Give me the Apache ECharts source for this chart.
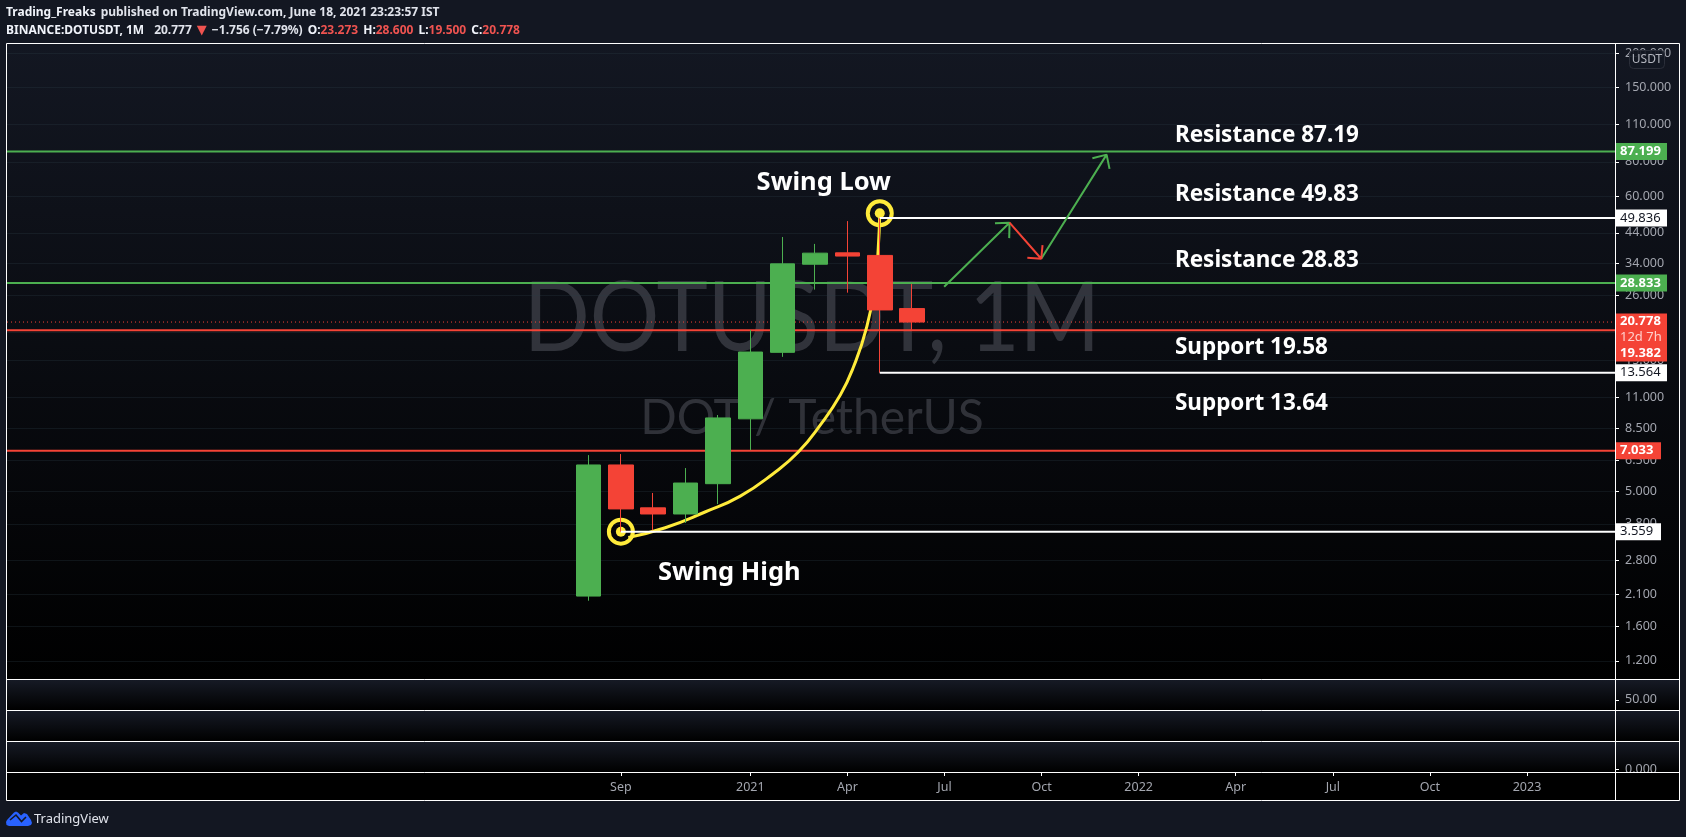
<!DOCTYPE html>
<html><head><meta charset="utf-8">
<style>html,body{margin:0;padding:0;background:#131722}#c{width:1686px;height:837px}</style>
<script src="https://cdn.jsdelivr.net/npm/echarts@6/dist/echarts.min.js"></script></head>
<body><div id="c"></div>
<script>
// month index 0 = Aug 2020
const candleMonths=[0,1,2,3,4,5,6,7,8,9,10];
const opens =[2.07,6.24,4.35,4.13,5.33,9.2,16.1,33.8,37.2,36.4,23.27];
const closes=[6.24,4.31,4.13,5.36,9.27,16.14,33.9,37.1,36.2,23.0,20.778];
const lows  =[1.99,3.559,3.6,3.83,4.49,7.07,15.5,27.3,26.6,13.564,19.5];
const highs =[6.78,6.84,4.93,6.08,9.5,19.42,42.5,40.1,48.6,49.836,28.6];
const xMin=-17.97, xMax=31.72;
const xTickIdx=[1,5,8,11,14,17,20,23,26,29];
const xTickLabels=['Sep','2021','Apr','Jul','Oct','2022','Apr','Jul','Oct','2023'];
const yTicks=[200,150,110,80,60,44,34,26,19,15,11,8.5,6.5,5,3.8,2.8,2.1,1.6,1.2];
const green='#4CAF50',red='#F44336',white='#FFFFFF',yellow='#FFEB3B';
const levelGreen=[87.199,28.833];
const levelRed=[19.382,7.033];
const whiteLevels=[[9,49.836],[9,13.564],[1,3.559]];
const lastPrice=20.778;
const curveX=[1.23,2.37,3.60,4.69,5.715,6.49,7.16,7.78,8.19,8.60,8.86,8.95,9.0];
const curveY=[3.39,3.68,4.20,4.80,5.81,6.97,8.73,11.24,14.26,19.98,28.9,38.1,52];
const arrowA=[[10.99,27.96],[13.01,47.95],[12.56,47.7],[13.01,47.95],[13.0,42.1]];
const arrowB=[[13.01,47.95],[13.99,35.4],[13.56,35.7],[13.99,35.4],[14.03,39.7]];
const arrowC=[[13.99,35.4],[16.01,85.0],[15.57,82.4],[16.01,85.0],[16.1,75.4]];
const notes=[['Resistance 87.19',18.12,100],['Resistance 49.83',18.12,60.6],['Resistance 28.83',18.12,34.9],['Support 19.58',18.12,16.8],['Support 13.64',18.12,10.5]];
const centerNotes=[['Swing Low',7.27,67],['Swing High',4.35,2.51]];
const rings=[[1,3.559],[9,51.9]];

const F='"Noto Sans",sans-serif';
const lvl=(v,c,w,t,x0)=>({type:'line',xAxisIndex:0,yAxisIndex:0,data:[[x0===undefined?xMin:x0,v],[xMax,v]],symbol:'none',silent:true,z:t||3,
  lineStyle:{color:c,width:w||2,type:'solid'},animation:false});
const solid={opacity:1};
const series=[];
series.push(Object.assign(lvl(lastPrice,red,1,3),{lineStyle:{color:red,width:1,type:[1,3]}}));
levelGreen.forEach(v=>series.push(lvl(v,green)));
levelRed.forEach(v=>series.push(lvl(v,red)));
series.push({type:'line',smooth:0.5,symbol:'none',z:3,animation:false,lineStyle:{color:yellow,width:3},data:curveX.map((x,i)=>[x,curveY[i]])});
series.push({type:'scatter',z:3,animation:false,symbol:'circle',symbolSize:24,itemStyle:{color:'rgba(0,0,0,0)',borderColor:yellow,borderWidth:4,opacity:1},data:rings});
series.push({type:'scatter',z:3,animation:false,symbol:'circle',symbolSize:10,itemStyle:{color:yellow,opacity:1},data:rings});
series.push({type:'candlestick',xAxisIndex:0,yAxisIndex:0,barWidth:25,z:4,animation:false,clip:false,
  itemStyle:{color:green,color0:red,borderColor:green,borderColor0:red,borderWidth:1},
  data:candleMonths.map((m,i)=>[m,opens[i],closes[i],lows[i],highs[i]])});
whiteLevels.forEach(l=>series.push(lvl(l[1],white,2,5,l[0])));
[[arrowA,green],[arrowC,green],[arrowB,red]].forEach(a=>series.push({type:'line',symbol:'none',z:6,animation:false,lineStyle:{color:a[1],width:2},data:a[0]}));
series.push({type:'scatter',z:8,animation:false,symbolSize:0,itemStyle:solid,data:notes.map(n=>({value:[n[1],n[2]],label:{show:true,formatter:n[0],position:'right',distance:0,color:'#fff',fontFamily:F,fontWeight:700,fontSize:22.5}}))});
series.push({type:'scatter',z:8,animation:false,symbolSize:0,itemStyle:solid,data:centerNotes.map(n=>({value:[n[1],n[2]],label:{show:true,formatter:n[0],position:'inside',color:'#fff',fontFamily:F,fontWeight:700,fontSize:25.5}}))});
const tag=(v,bg,fg,w)=>({value:[xMax,v],label:{show:true,position:'right',distance:0,formatter:v.toFixed(3),backgroundColor:bg,color:fg,fontFamily:F,fontSize:13,fontWeight:bg===white?400:700,width:w,padding:[1,0,1,5],height:15,lineHeight:15,align:'left'}});
series.push({type:'scatter',z:20,animation:false,clip:false,symbolSize:0,itemStyle:solid,data:[
 tag(87.199,green,'#fff',47),tag(49.836,white,'#131722',47),tag(28.833,green,'#fff',47),tag(13.564,white,'#131722',47),tag(7.033,red,'#fff',41),tag(3.559,white,'#131722',41),
 {value:[xMax,lastPrice],label:{show:true,position:'right',distance:0,offset:[0,15.5],backgroundColor:red,padding:[0,0,0,5],width:47,align:'left',color:'#fff',fontFamily:F,fontSize:13,fontWeight:700,lineHeight:16,
   formatter:['{a|20.778}','{b|12d 7h}','{a|19.382}'].join('\n'),rich:{a:{color:'#fff',fontFamily:F,fontSize:13,fontWeight:700,lineHeight:16},b:{color:'#ffd0cc',fontFamily:F,fontSize:13,fontWeight:400,lineHeight:16}}}}
]});

const paneBg=(y,h,top)=>({type:'rect',z:-10,silent:true,shape:{x:7,y,width:1672,height:h},style:{fill:new echarts.graphic.LinearGradient(0,0,0,1,[{offset:0,color:top},{offset:1,color:'#000'}])}});
const hl=(x1,y1,x2,y2)=>({type:'line',z:30,silent:true,shape:{x1,y1,x2,y2},style:{stroke:'#fff',lineWidth:1}});
const base={show:false,type:'value',min:xMin,max:xMax};
const gridL=7,gridR=1686-1615;
const labelStyle={color:'#a3a6af',fontFamily:F,fontSize:12.5};
const opt={
 backgroundColor:'#131722',animation:false,
 title:[
  {left:6,top:4,padding:0,text:'{b|Trading_Freaks} {n|published on TradingView.com, June 18, 2021 23:23:57 IST}',textStyle:{rich:{b:{fontFamily:F,fontSize:12,fontWeight:700,color:'#f0f3fa'},n:{fontFamily:F,fontSize:12,color:'#e0e3eb'}}}},
  {left:6,top:22,padding:0,text:'{b|BINANCE:DOTUSDT, 1M}  {n|20.777} {t|▼} {n|−1.756 (−7.79%)} {b|O:}{r|23.273} {b|H:}{r|28.600} {b|L:}{r|19.500} {b|C:}{r|20.778}',textStyle:{rich:{b:{fontFamily:F,fontSize:12,fontWeight:700,color:'#f0f3fa'},n:{fontFamily:F,fontSize:12,color:'#e0e3eb'},r:{fontFamily:F,fontSize:12,color:'#ef5350'},t:{fontFamily:'"DejaVu Sans"',fontSize:13,color:'#ef5350'}}}}
 ],
 grid:[
  {left:gridL,right:gridR,top:44,height:635},
  {left:gridL,right:gridR,top:680,height:30},
  {left:gridL,right:gridR,top:711,height:30},
  {left:gridL,right:gridR,top:742,height:30}
 ],
 xAxis:[
  Object.assign({},base,{gridIndex:0}),Object.assign({},base,{gridIndex:1}),Object.assign({},base,{gridIndex:2}),
  {gridIndex:3,type:'value',min:xMin,max:xMax,position:'bottom',splitLine:{show:false},axisLine:{show:false,onZero:false},
   axisTick:{show:true,length:4,lineStyle:{color:'#fff'},customValues:xTickIdx},
   axisLabel:{show:true,margin:9,customValues:xTickIdx,formatter:v=>xTickLabels[xTickIdx.indexOf(v)]||'',color:'#a3a6af',fontFamily:F,fontSize:12.5}}
 ],
 yAxis:[
  {gridIndex:0,type:'log',logBase:10,min:1.03,max:215.7,position:'right',axisLine:{show:false,onZero:false},
   axisTick:{show:true,length:4,lineStyle:{color:'#fff'},customValues:yTicks},
   splitLine:{show:true,lineStyle:{color:'rgba(42,60,70,0.3)',width:1}},minorTick:{show:false},
   axisLabel:{show:true,margin:10,customValues:yTicks,formatter:v=>Number(v).toFixed(3),...labelStyle}},
  {gridIndex:1,type:'value',min:0,max:149,position:'right',axisLine:{show:false,onZero:false},splitLine:{show:false},
   axisTick:{show:true,length:4,lineStyle:{color:'#fff'},customValues:[50]},
   axisLabel:{show:true,margin:10,customValues:[50],formatter:v=>Number(v).toFixed(2),...labelStyle}},
  {gridIndex:2,type:'value',show:false},
  {gridIndex:3,type:'value',min:-10,max:100,position:'right',axisLine:{show:false,onZero:false},splitLine:{show:false},
   axisTick:{show:true,length:4,lineStyle:{color:'#fff'},customValues:[0]},
   axisLabel:{show:true,margin:10,customValues:[0],formatter:v=>Number(v).toFixed(3),...labelStyle}}
 ],
 series,
 graphic:[
  paneBg(44,635,'#131722'),paneBg(680,30,'#161a25'),paneBg(711,30,'#161a25'),paneBg(742,30,'#161a25'),
  {type:'rect',z:-10,silent:true,shape:{x:7,y:773,width:1672,height:27},style:{fill:'#000'}},
  {type:'text',z:-5,silent:true,x:812,y:320,scaleX:0.905,style:{x:0,y:0,text:'DOTUSDT, 1M',align:'center',verticalAlign:'middle',fontFamily:'Lato',fontSize:96,fill:'rgba(120,123,134,0.36)'}},
  {type:'text',z:-5,silent:true,style:{x:812,y:419,text:'DOT / TetherUS',align:'center',verticalAlign:'middle',fontFamily:'Lato',fontSize:48,fill:'rgba(120,123,134,0.36)'}},
  {type:'rect',z:30,silent:true,shape:{x:6.5,y:43.5,width:1673,height:757},style:{fill:'none',stroke:'#fff',lineWidth:1}},
  hl(6.5,679.5,1679.5,679.5),hl(6.5,710.5,1679.5,710.5),hl(6.5,741.5,1679.5,741.5),hl(6.5,772.5,1679.5,772.5),hl(1615.5,43.5,1615.5,800.5),
  {type:'rect',z:31,silent:true,shape:{x:1629.5,y:50.5,width:35,height:18,r:4},style:{fill:'rgba(19,23,34,0.9)',stroke:'#2a2e39',lineWidth:1}},
  {type:'text',z:32,silent:true,style:{x:1647,y:60,text:'USDT',align:'center',verticalAlign:'middle',fontFamily:F,fontSize:12,fill:'#b2b5be'}},
  {type:'polygon',z:32,silent:true,shape:{points:[[6,822],[7,820],[14,812.5],[16,811.5],[18,812.5],[21,815.5],[24,813],[27,814],[31,820],[32,823],[31,825],[28,826],[9,826],[6.5,825]]},style:{fill:'#2962FF'}},
  {type:'polyline',z:33,silent:true,shape:{points:[[10,820],[16,815],[21.5,821.5],[26,817]]},style:{stroke:'#131722',lineWidth:1.6,fill:'none'}},
  {type:'text',z:32,silent:true,style:{x:34,y:819,text:'TradingView',align:'left',verticalAlign:'middle',fontFamily:F,fontSize:13,fill:'#e0e3eb'}}
 ]
};
const chart=echarts.init(document.getElementById('c'),null,{renderer:'canvas'});
chart.setOption(opt);
</script></body></html>
